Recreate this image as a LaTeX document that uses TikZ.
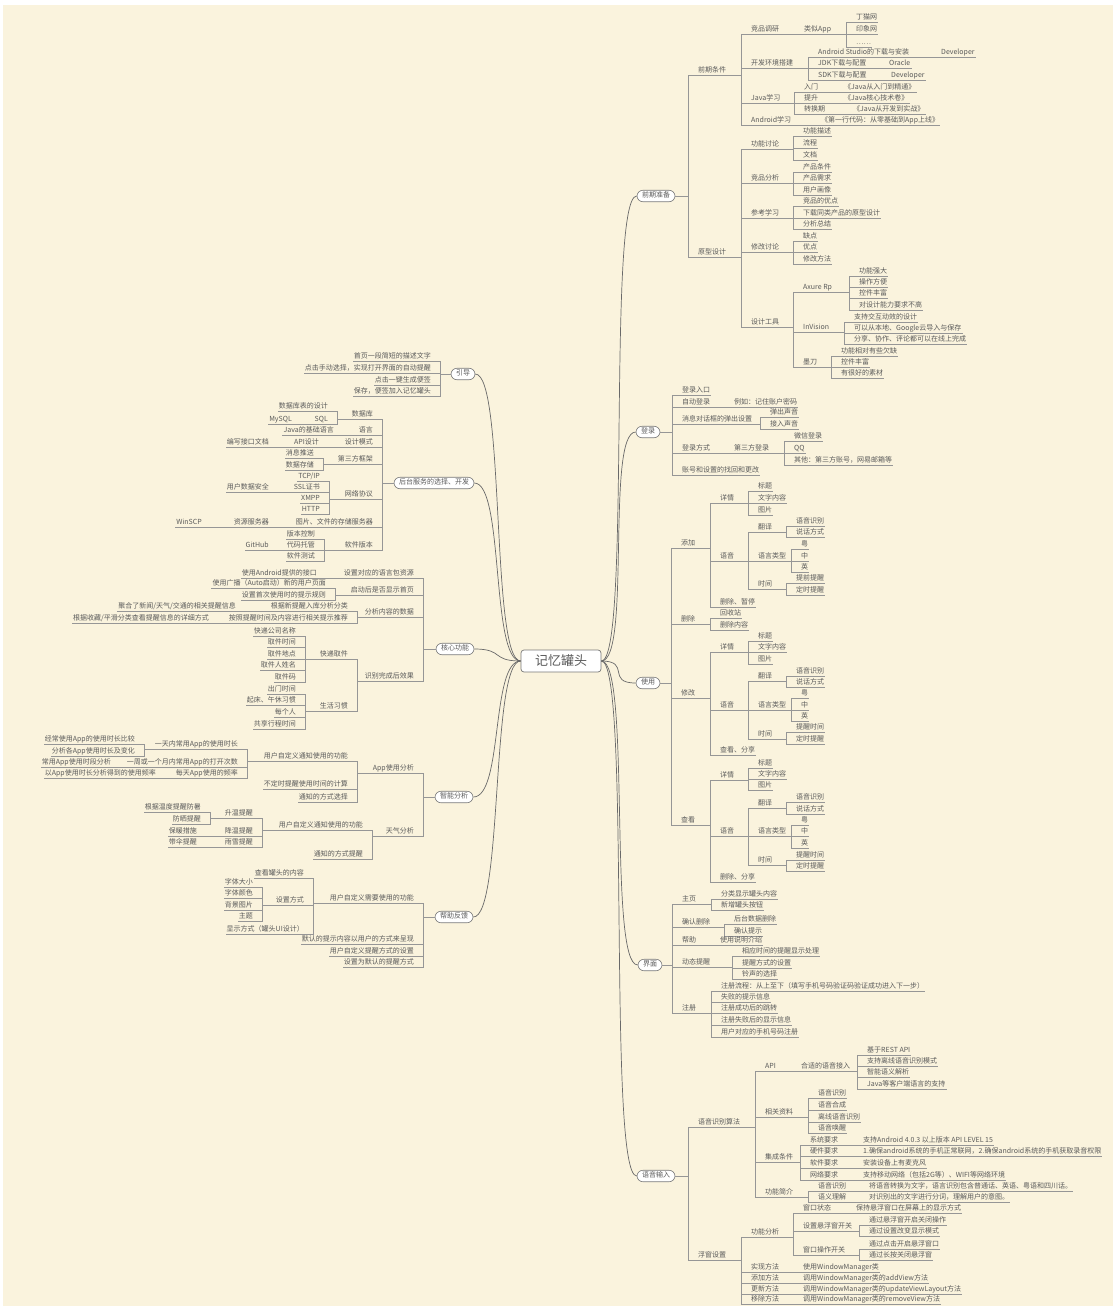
\documentclass[tikz,border=0pt]{standalone}
\usepackage{fontspec}
\setmainfont{Noto Sans CJK SC}
\usetikzlibrary{calc}
\definecolor{bg}{HTML}{FAF3DD}
\definecolor{tc}{HTML}{5A5A5A}
\definecolor{lc}{HTML}{969696}
\tikzset{
 tx/.style={inner xsep=1pt, inner ysep=1pt, text height=5.2pt, text depth=1.3pt, font=\fontsize{7}{8}\selectfont, text=tc},
 ln/.style={draw=lc, line width=0.6pt},
 oval/.style={draw=lc!80!black, fill=white, rounded corners=6pt, inner xsep=5pt, inner ysep=2.5pt, line width=0.6pt, text height=5.2pt, text depth=1.3pt, font=\fontsize{7}{8}\selectfont, text=tc},
 hub/.style={draw=lc!80!black, fill=white, rounded corners=3pt, minimum width=80pt, minimum height=22pt, font=\fontsize{13}{14}\selectfont, text=tc, line width=0.7pt},
 cv/.style={draw=lc!70!black, line width=0.7pt},
}
\newcommand\addR[5]{\node[tx,anchor=west] (#2) at (#3,#4) {#5};\draw[ln] (#1.south west) -- ($(#1.south -| #2.west)+(-9,0)$) |- (#2.south east);}
\newcommand\addL[5]{\node[tx,anchor=east] (#2) at (#3,#4) {#5};\draw[ln] (#1.south east) -- ($(#1.south -| #2.east)+(8,0)$) |- (#2.south west);}
\newcommand\rootR[5]{\node[tx,anchor=west] (#2) at (#3,#4) {#5};\draw[ln] (#1.east) -- ($(#1.east -| #2.west)+(-9,0)$) |- (#2.south east);}
\newcommand\rootL[5]{\node[tx,anchor=east] (#2) at (#3,#4) {#5};\draw[ln] (#1.west) -- ($(#1.west -| #2.east)+(8,0)$) |- (#2.south west);}
\begin{document}
\begin{tikzpicture}[x=1pt,y=-1pt]
\useasboundingbox (0,0) rectangle (1116,1306);
\fill[white] (0,0) rectangle (1116,1306);
\fill[bg] (3,5) rectangle (1113,1306);
% hub and main branches
\node[hub] (M) at (561,661) {记忆罐头};
\node[oval] (A) at (656,196) {前期准备};
\node[oval] (B) at (648,432) {登录};
\node[oval] (C) at (648,683) {使用};
\node[oval] (D) at (650,965) {界面};
\node[oval] (E) at (656,1176) {语音输入};
\node[oval] (F) at (463,374) {引导};
\node[oval] (G) at (434,483) {后台服务的选择、开发};
\node[oval] (H) at (455,649) {核心功能};
\node[oval] (I) at (454,797) {智能分析};
\node[oval] (J) at (454,917) {帮助反馈};
\foreach \b in {A,B,C,D,E} {\draw[cv] (M.east) .. controls +(30,0) and +(-30,0) .. (\b.west);}
\foreach \b in {F,G,H,I,J} {\draw[cv] (M.west) .. controls +(-30,0) and +(30,0) .. (\b.east);}
% ===== A 前期准备
\rootR{A}{A1}{697}{71}{前期条件}
\addR{A1}{A11}{750}{30}{竞品调研}
\addR{A11}{A111}{803}{30}{类似App}
\addR{A111}{A1111}{855}{18}{丁猫网}
\addR{A111}{A1112}{855}{30}{印象网}
\addR{A111}{A1113}{855}{43}{……}
\addR{A1}{A12}{750}{64}{开发环境搭建}
\addR{A12}{A121}{817}{53}{Android Studio的下载与安装}
\addR{A121}{A1211}{940}{53}{Developer}
\addR{A12}{A122}{817}{64}{JDK下载与配置}
\addR{A122}{A1221}{888}{64}{Oracle}
\addR{A12}{A123}{817}{76}{SDK下载与配置}
\addR{A123}{A1231}{890}{76}{Developer}
\addR{A1}{A13}{750}{99}{Java学习}
\addR{A13}{A131}{803}{88}{入门}
\addR{A131}{A1311}{843}{88}{《Java从入门到精通》}
\addR{A13}{A132}{803}{99}{提升}
\addR{A132}{A1321}{843}{99}{《Java核心技术卷》}
\addR{A13}{A133}{803}{110}{转换期}
\addR{A133}{A1331}{852}{110}{《Java从开发到实战》}
\addR{A1}{A14}{750}{121}{Android学习}
\addR{A14}{A141}{820}{121}{《第一行代码：从零基础到App上线》}
\rootR{A}{A2}{697}{253}{原型设计}
\addR{A2}{A21}{750}{145}{功能讨论}
\addR{A21}{A211}{802}{132}{功能描述}
\addR{A21}{A212}{802}{144}{流程}
\addR{A21}{A213}{802}{156}{文档}
\addR{A2}{A22}{750}{179}{竞品分析}
\addR{A22}{A221}{802}{168}{产品条件}
\addR{A22}{A222}{802}{179}{产品需求}
\addR{A22}{A223}{802}{191}{用户画像}
\addR{A2}{A23}{750}{214}{参考学习}
\addR{A23}{A231}{802}{202}{竞品的优点}
\addR{A23}{A232}{802}{214}{下载同类产品的原型设计}
\addR{A23}{A233}{802}{225}{分析总结}
\addR{A2}{A24}{750}{248}{修改讨论}
\addR{A24}{A241}{802}{237}{缺点}
\addR{A24}{A242}{802}{248}{优点}
\addR{A24}{A243}{802}{260}{修改方法}
\addR{A2}{A25}{750}{323}{设计工具}
\addR{A25}{A251}{802}{288}{Axure Rp}
\addR{A251}{A2511}{858}{272}{功能强大}
\addR{A251}{A2512}{858}{283}{操作方便}
\addR{A251}{A2513}{858}{294}{控件丰富}
\addR{A251}{A2514}{858}{306}{对设计能力要求不高}
\addR{A25}{A252}{802}{328}{InVision}
\addR{A252}{A2521}{853}{318}{支持交互动效的设计}
\addR{A252}{A2522}{853}{329}{可以从本地、Google云导入与保存}
\addR{A252}{A2523}{853}{340}{分享、协作、评论都可以在线上完成}
\addR{A25}{A253}{802}{363}{墨刀}
\addR{A253}{A2531}{840}{352}{功能相对有些欠缺}
\addR{A253}{A2532}{840}{363}{控件丰富}
\addR{A253}{A2533}{840}{374}{有很好的素材}
% ===== B 登录
\rootR{B}{B1}{681}{391}{登录入口}
\rootR{B}{B2}{681}{403}{自动登录}
\addR{B2}{B21}{733}{403}{例如：记住账户密码}
\rootR{B}{B3}{681}{420}{消息对话框的弹出设置}
\addR{B3}{B31}{769}{413}{弹出声音}
\addR{B3}{B32}{769}{425}{接入声音}
\rootR{B}{B4}{681}{449}{登录方式}
\addR{B4}{B41}{733}{449}{第三方登录}
\addR{B41}{B411}{793}{437}{微信登录}
\addR{B41}{B412}{793}{449}{QQ}
\addR{B41}{B413}{793}{461}{其他：第三方账号，网易邮箱等}
\rootR{B}{B5}{681}{471}{账号和设置的找回和更改}
% ===== C 使用
\rootR{C}{C1}{680}{544}{添加}
\addR{C1}{C11}{719}{499}{详情}
\addR{C11}{C111}{757}{487}{标题}
\addR{C11}{C112}{757}{499}{文字内容}
\addR{C11}{C113}{757}{511}{图片}
\addR{C1}{C12}{719}{557}{语音}
\addR{C12}{C121}{757}{528}{翻译}
\addR{C121}{C1211}{795}{522}{语音识别}
\addR{C121}{C1212}{795}{533}{说话方式}
\addR{C12}{C122}{757}{557}{语言类型}
\addR{C122}{C1221}{800}{545}{粤}
\addR{C122}{C1222}{800}{557}{中}
\addR{C122}{C1223}{800}{568}{英}
\addR{C12}{C123}{757}{585}{时间}
\addR{C123}{C1231}{795}{579}{提前提醒}
\addR{C123}{C1232}{795}{591}{定时提醒}
\addR{C1}{C13}{719}{603}{删除、暂停}
\rootR{C}{C2}{680}{620}{删除}
\addR{C2}{C21}{719}{614}{回收站}
\addR{C2}{C22}{719}{626}{删除内容}
\rootR{C}{C3}{680}{694}{修改}
\addR{C3}{C31}{719}{648}{详情}
\addR{C31}{C311}{757}{637}{标题}
\addR{C31}{C312}{757}{648}{文字内容}
\addR{C31}{C313}{757}{660}{图片}
\addR{C3}{C32}{719}{706}{语音}
\addR{C32}{C321}{757}{677}{翻译}
\addR{C321}{C3211}{795}{672}{语音识别}
\addR{C321}{C3212}{795}{683}{说话方式}
\addR{C32}{C322}{757}{706}{语言类型}
\addR{C322}{C3221}{800}{694}{粤}
\addR{C322}{C3222}{800}{706}{中}
\addR{C322}{C3223}{800}{717}{英}
\addR{C32}{C323}{757}{735}{时间}
\addR{C323}{C3231}{795}{728}{提醒时间}
\addR{C323}{C3232}{795}{740}{定时提醒}
\addR{C3}{C33}{719}{751}{查看、分享}
\rootR{C}{C4}{680}{821}{查看}
\addR{C4}{C41}{719}{776}{详情}
\addR{C41}{C411}{757}{764}{标题}
\addR{C41}{C412}{757}{775}{文字内容}
\addR{C41}{C413}{757}{786}{图片}
\addR{C4}{C42}{719}{832}{语音}
\addR{C42}{C421}{757}{804}{翻译}
\addR{C421}{C4211}{795}{798}{语音识别}
\addR{C421}{C4212}{795}{810}{说话方式}
\addR{C42}{C422}{757}{832}{语言类型}
\addR{C422}{C4221}{800}{821}{粤}
\addR{C422}{C4222}{800}{832}{中}
\addR{C422}{C4223}{800}{844}{英}
\addR{C42}{C423}{757}{861}{时间}
\addR{C423}{C4231}{795}{856}{提醒时间}
\addR{C423}{C4232}{795}{867}{定时提醒}
\addR{C4}{C43}{719}{878}{删除、分享}
% ===== D 界面
\rootR{D}{D1}{681}{900}{主页}
\addR{D1}{D11}{720}{895}{分类显示罐头内容}
\addR{D1}{D12}{720}{906}{新增罐头按钮}
\rootR{D}{D2}{681}{923}{确认删除}
\addR{D2}{D21}{733}{920}{后台数据删除}
\addR{D2}{D22}{733}{932}{确认提示}
\rootR{D}{D3}{681}{941}{帮助}
\addR{D3}{D31}{719}{941}{使用说明介绍}
\rootR{D}{D4}{681}{963}{动态提醒}
\addR{D4}{D41}{741}{952}{相应时间的提醒显示处理}
\addR{D4}{D42}{741}{964}{提醒方式的设置}
\addR{D4}{D43}{741}{975}{铃声的选择}
\rootR{D}{D5}{681}{1009}{注册}
\addR{D5}{D51}{720}{987}{注册流程：从上至下（填写手机号码验证码验证成功进入下一步）}
\addR{D5}{D52}{720}{998}{失败的提示信息}
\addR{D5}{D53}{720}{1009}{注册成功后的跳转}
\addR{D5}{D54}{720}{1021}{注册失败后的显示信息}
\addR{D5}{D55}{720}{1033}{用户对应的手机号码注册}
% ===== E 语音输入
\rootR{E}{E1}{697}{1123}{语音识别算法}
\addR{E1}{E11}{764}{1067}{API}
\addR{E11}{E111}{800}{1067}{合适的语音接入}
\addR{E111}{E1111}{866}{1051}{基于REST API}
\addR{E111}{E1112}{866}{1062}{支持离线语音识别模式}
\addR{E111}{E1113}{866}{1073}{智能语义解析}
\addR{E111}{E1114}{866}{1085}{Java等客户端语言的支持}
\addR{E1}{E12}{764}{1113}{相关资料}
\addR{E12}{E121}{817}{1094}{语音识别}
\addR{E12}{E122}{817}{1106}{语音合成}
\addR{E12}{E123}{817}{1118}{离线语音识别}
\addR{E12}{E124}{817}{1129}{语音唤醒}
\addR{E1}{E13}{764}{1158}{集成条件}
\addR{E13}{E131}{809}{1141}{系统要求}
\addR{E131}{E1311}{862}{1141}{支持Android 4.0.3 以上版本 API LEVEL 15}
\addR{E13}{E132}{809}{1152}{硬件要求}
\addR{E132}{E1321}{862}{1152}{1.确保android系统的手机正常联网，2.确保android系统的手机获取录音权限}
\addR{E13}{E133}{809}{1164}{软件要求}
\addR{E133}{E1331}{862}{1164}{安装设备上有麦克风}
\addR{E13}{E134}{809}{1176}{网络要求}
\addR{E134}{E1341}{862}{1176}{支持移动网络（包括2G等）、WIFI等网络环境}
\addR{E1}{E14}{764}{1193}{功能简介}
\addR{E14}{E141}{817}{1187}{语音识别}
\addR{E141}{E1411}{868}{1187}{将语音转换为文字，语言识别包含普通话、英语、粤语和四川话。}
\addR{E14}{E142}{817}{1198}{语义理解}
\addR{E142}{E1421}{868}{1198}{对识别出的文字进行分词，理解用户的意图。}
\rootR{E}{E2}{697}{1256}{浮窗设置}
\addR{E2}{E21}{750}{1233}{功能分析}
\addR{E21}{E211}{802}{1209}{窗口状态}
\addR{E211}{E2111}{855}{1209}{保持悬浮窗口在屏幕上的显示方式}
\addR{E21}{E212}{802}{1227}{设置悬浮窗开关}
\addR{E212}{E2121}{868}{1221}{通过悬浮窗开启关闭操作}
\addR{E212}{E2122}{868}{1232}{通过设置改变显示模式}
\addR{E21}{E213}{802}{1251}{窗口操作开关}
\addR{E213}{E2131}{868}{1245}{通过点击开启悬浮窗口}
\addR{E213}{E2132}{868}{1256}{通过长按关闭悬浮窗}
\addR{E2}{E22}{750}{1268}{实现方法}
\addR{E22}{E221}{802}{1268}{使用WindowManager类}
\addR{E2}{E23}{750}{1279}{添加方法}
\addR{E23}{E231}{802}{1279}{调用WindowManager类的addView方法}
\addR{E2}{E24}{750}{1290}{更新方法}
\addR{E24}{E241}{802}{1290}{调用WindowManager类的updateViewLayout方法}
\addR{E2}{E25}{750}{1300}{移除方法}
\addR{E25}{E251}{802}{1300}{调用WindowManager类的removeView方法}
% ===== F 引导
\rootL{F}{F1}{432}{357}{首页一段简短的描述文字}
\rootL{F}{F2}{432}{369}{点击手动选择，实现打开界面的自动提醒}
\rootL{F}{F3}{432}{381}{点击一键生成便签}
\rootL{F}{F4}{432}{392}{保存，便签加入记忆罐头}
% ===== G 开发
\rootL{G}{G1}{374}{415}{数据库}
\addL{G1}{G11}{329}{407}{数据库表的设计}
\addL{G1}{G12}{329}{420}{SQL}
\addL{G12}{G121}{293}{420}{MySQL}
\rootL{G}{G2}{374}{431}{语言}
\addL{G2}{G21}{335}{431}{Java的基础语言}
\rootL{G}{G3}{374}{443}{设计模式}
\addL{G3}{G31}{320}{443}{API设计}
\addL{G31}{G311}{270}{443}{编写接口文档}
\rootL{G}{G4}{374}{460}{第三方框架}
\addL{G4}{G41}{315}{454}{消息推送}
\addL{G4}{G42}{315}{466}{数据存储}
\rootL{G}{G5}{374}{495}{网络协议}
\addL{G5}{G51}{321}{477}{TCP/IP}
\addL{G5}{G52}{321}{488}{SSL证书}
\addL{G52}{G521}{270}{488}{用户数据安全}
\addL{G5}{G53}{321}{499}{XMPP}
\addL{G5}{G54}{321}{510}{HTTP}
\rootL{G}{G6}{374}{523}{图片、文件的存储服务器}
\addL{G6}{G61}{270}{523}{资源服务器}
\addL{G61}{G611}{203}{523}{WinSCP}
\rootL{G}{G7}{374}{546}{软件版本}
\addL{G7}{G71}{316}{535}{版本控制}
\addL{G7}{G72}{316}{546}{代码托管}
\addL{G72}{G721}{270}{546}{GitHub}
\addL{G7}{G73}{316}{557}{软件测试}
% ===== H 核心功能
\rootL{H}{H1}{415}{574}{设置对应的语言包资源}
\addL{H1}{H11}{318}{574}{使用Android提供的接口}
\rootL{H}{H2}{415}{591}{启动后是否显示首页}
\addL{H2}{H21}{327}{584}{使用广播（Auto启动）新的用户页面}
\addL{H2}{H22}{327}{596}{设置首次使用时的提示规则}
\rootL{H}{H3}{415}{613}{分析内容的数据}
\addL{H3}{H31}{349}{607}{根据新提醒入库分析分类}
\addL{H31}{H311}{237}{607}{聚合了新闻/天气/交通的相关提醒信息}
\addL{H3}{H32}{349}{619}{按照提醒时间及内容进行相关提示推荐}
\addL{H32}{H321}{210}{619}{根据收藏/平滑分类查看提醒信息的详细方式}
\rootL{H}{H4}{415}{677}{识别完成后效果}
\addL{H4}{H41}{349}{655}{快递取件}
\addL{H41}{H411}{297}{632}{快递公司名称}
\addL{H41}{H412}{297}{643}{取件时间}
\addL{H41}{H413}{297}{655}{取件地点}
\addL{H41}{H414}{297}{666}{取件人姓名}
\addL{H41}{H415}{297}{678}{取件码}
\addL{H4}{H42}{349}{707}{生活习惯}
\addL{H42}{H421}{297}{690}{出门时间}
\addL{H42}{H422}{297}{701}{起床、午休习惯}
\addL{H42}{H423}{297}{713}{每个人}
\addL{H42}{H424}{297}{725}{共享行程时间}
% ===== I 智能分析
\rootL{I}{I1}{415}{769}{App使用分析}
\addL{I1}{I11}{349}{757}{用户自定义通知使用的功能}
\addL{I11}{I111}{239}{745}{一天内常用App的使用时长}
\addL{I111}{I1111}{136}{740}{经常使用App的使用时长比较}
\addL{I111}{I1112}{136}{752}{分析各App使用时长及变化}
\addL{I11}{I112}{239}{763}{一周或一个月内常用App的打开次数}
\addL{I112}{I1121}{112}{763}{常用App使用时段分析}
\addL{I11}{I113}{239}{774}{每天App使用的频率}
\addL{I113}{I1131}{157}{774}{以App使用时长分析得到的使用频率}
\addL{I1}{I12}{349}{785}{不定时提醒使用时间的计算}
\addL{I1}{I13}{349}{798}{通知的方式选择}
\rootL{I}{I2}{415}{832}{天气分析}
\addL{I2}{I21}{364}{826}{用户自定义通知使用的功能}
\addL{I21}{I211}{254}{814}{升温提醒}
\addL{I211}{I2111}{202}{808}{根据温度提醒防暑}
\addL{I211}{I2112}{202}{820}{防晒提醒}
\addL{I21}{I212}{254}{832}{降温提醒}
\addL{I212}{I2121}{198}{832}{保暖措施}
\addL{I21}{I213}{254}{843}{雨雪提醒}
\addL{I213}{I2131}{198}{843}{带伞提醒}
\addL{I2}{I22}{364}{855}{通知的方式提醒}
% ===== J 帮助反馈
\rootL{J}{J1}{415}{899}{用户自定义需要使用的功能}
\addL{J1}{J11}{305}{874}{查看罐头的内容}
\addL{J1}{J12}{305}{901}{设置方式}
\addL{J12}{J121}{254}{883}{字体大小}
\addL{J12}{J122}{254}{894}{字体颜色}
\addL{J12}{J123}{254}{906}{背景图片}
\addL{J12}{J124}{254}{917}{主题}
\addL{J1}{J13}{305}{930}{显示方式（罐头UI设计）}
\rootL{J}{J2}{415}{940}{默认的提示内容以用户的方式来呈现}
\rootL{J}{J3}{415}{952}{用户自定义提醒方式的设置}
\rootL{J}{J4}{415}{963}{设置为默认的提醒方式}
\end{tikzpicture}
\end{document}
